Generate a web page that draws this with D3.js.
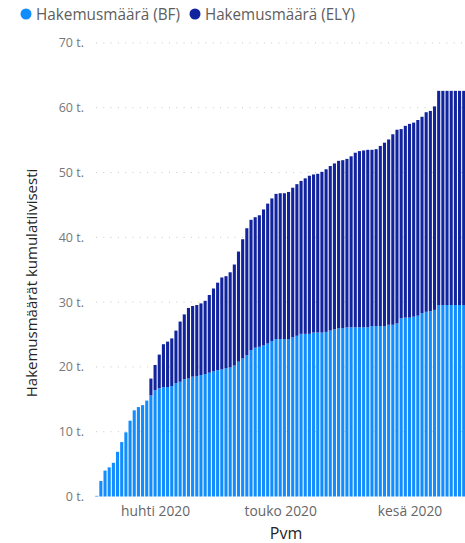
<!DOCTYPE html>
<html>
<head>
<meta charset="utf-8">
<script src="https://cdn.jsdelivr.net/npm/d3@7"></script>
<style>
  html, body { margin: 0; padding: 0; background: #fff; overflow: hidden; }
  svg { display: block; font-family: "Open Sans", "Noto Sans", sans-serif; }
</style>
</head>
<body>
<svg id="chart" width="465" height="543"></svg>
<script>
// ---- Data (thousands of applications, cumulative) ----
const startDate = "2020-03-18";
const seriesNames = ["Hakemusmäärä (BF)", "Hakemusmäärä (ELY)"];
const bfValues = [
  0.1, 2.4, 4.0, 4.5, 5.2, 6.9, 8.4, 9.9, 11.7, 13.3,
  13.8, 14.1, 14.8, 15.6, 16.4, 16.7, 16.85, 16.9, 17.05, 17.5,
  17.7, 18.1, 18.2, 18.5, 18.6, 18.75, 18.9, 19.1, 19.3, 19.5,
  19.6, 19.8, 19.9, 20.2, 20.8, 21.3, 21.8, 22.6, 22.96, 23.1,
  23.3, 23.6, 24.0, 24.3, 24.3, 24.3, 24.3, 24.6, 24.8, 25.1,
  25.1, 25.1, 25.3, 25.3, 25.3, 25.4, 25.6, 25.8, 25.95, 26.0,
  26.1, 26.1, 26.1, 26.1, 26.1, 26.1, 26.3, 26.3, 26.3, 26.3,
  26.5, 26.5, 26.7, 27.5, 27.6, 27.6, 27.75, 27.9, 28.3, 28.5,
  28.6, 28.8, 29.55, 29.55, 29.55, 29.55, 29.55, 29.55, 29.55
];
const totalValues = [
  0.1, 2.4, 4.0, 4.5, 5.2, 6.9, 8.4, 9.9, 11.7, 13.3,
  13.8, 14.1, 14.8, 18.2, 20.3, 21.9, 23.5, 23.9, 24.4, 25.6,
  27.0, 28.1, 29.1, 29.4, 29.55, 29.8, 30.2, 31.1, 32.1, 33.0,
  33.8, 34.0, 34.6, 35.8, 37.8, 39.7, 41.4, 42.7, 43.1, 43.4,
  44.3, 45.2, 46.0, 46.7, 46.8, 46.8, 47.0, 47.65, 48.2, 48.7,
  49.1, 49.5, 49.7, 49.8, 50.1, 50.5, 51.0, 51.4, 51.8, 51.9,
  52.1, 52.5, 53.05, 53.3, 53.4, 53.5, 53.5, 53.6, 54.1, 54.6,
  55.1, 55.9, 56.6, 56.7, 57.2, 57.5, 57.7, 58.1, 58.6, 59.3,
  59.5, 60.2, 62.6, 62.6, 62.6, 62.6, 62.6, 62.6, 62.6
];
const yTicks = [0, 10, 20, 30, 40, 50, 60, 70];
const xTickDates = ["2020-04-01", "2020-05-01", "2020-06-01"];
const xTickLabels = ["huhti 2020", "touko 2020", "kesä 2020"];
const yTitle = "Hakemusmäärät kumulatiivisesti";
const xTitle = "Pvm";
const colors = ["#118DFF", "#12239E"];

// ---- Build table ----
const parse = d3.utcParse("%Y-%m-%d");
const d0 = parse(startDate);
const rows = bfValues.map((bf, i) => ({
  date: d3.utcDay.offset(d0, i),
  bf: bf,
  ely: Math.max(0, totalValues[i] - bf)
}));
const stack = d3.stack().keys(["bf", "ely"])(rows);

const svg = d3.select("#chart");
const x = d3.scaleUtc()
  .domain([parse("2020-03-18"), parse("2020-06-01")])
  .range([96.7, 409.5]);
const y = d3.scaleLinear().domain([0, 70]).range([496.5, 42.9]);
const bw = 3.1;

// gridlines
svg.append("g")
  .selectAll("line")
  .data(yTicks.filter(t => t > 0))
  .join("line")
  .attr("x1", 96).attr("x2", 465)
  .attr("y1", d => y(d)).attr("y2", d => y(d))
  .attr("stroke", "#c8c8c8")
  .attr("stroke-width", 1)
  .attr("stroke-dasharray", "1,6.3");

// bars
svg.append("g")
  .selectAll("g")
  .data(stack)
  .join("g")
  .attr("fill", (d, i) => colors[i])
  .selectAll("rect")
  .data(d => d)
  .join("rect")
  .attr("x", d => x(d.data.date) - bw / 2)
  .attr("width", bw)
  .attr("y", d => y(d[1]))
  .attr("height", d => Math.max(0, y(d[0]) - y(d[1])));

// y axis labels
const yAxis = d3.axisLeft(y).tickValues(yTicks).tickSize(0).tickPadding(0)
  .tickFormat(d => d + " t.");
svg.append("g")
  .attr("transform", "translate(84,0)")
  .call(yAxis)
  .call(g => g.select(".domain").remove())
  .call(g => g.selectAll("text")
    .attr("fill", "#777")
    .attr("font-size", 12.5)
    .attr("font-family", "'Open Sans', sans-serif"));

// x axis labels
const xAxis = d3.axisBottom(x).tickValues(xTickDates.map(parse)).tickSize(0).tickPadding(0)
  .tickFormat((d, i) => xTickLabels[i]);
svg.append("g")
  .attr("transform", "translate(0,506.5)")
  .call(xAxis)
  .call(g => g.select(".domain").remove())
  .call(g => g.selectAll("text")
    .attr("fill", "#666")
    .attr("font-size", 13.8)
    .attr("font-family", "'Open Sans', sans-serif"));

// titles
svg.append("text")
  .attr("x", 286).attr("y", 538.5)
  .attr("text-anchor", "middle")
  .attr("font-size", 16)
  .attr("fill", "#252423")
  .text(xTitle);

svg.append("text")
  .attr("transform", "translate(37,283) rotate(-90)")
  .attr("text-anchor", "middle")
  .attr("font-size", 15)
  .attr("fill", "#252423")
  .text(yTitle);

// legend
const legend = svg.append("g");
const lx = [26, 195];
seriesNames.forEach((name, i) => {
  legend.append("circle").attr("cx", lx[i]).attr("cy", 14).attr("r", 5.5).attr("fill", colors[i]);
  legend.append("text").attr("x", lx[i] + 10).attr("y", 19.5)
    .attr("font-size", 15.5).attr("fill", "#605E5C")
    .attr("textLength", i === 0 ? 144 : 150)
    .attr("lengthAdjust", "spacingAndGlyphs")
    .text(name);
});
</script>
</body>
</html>
